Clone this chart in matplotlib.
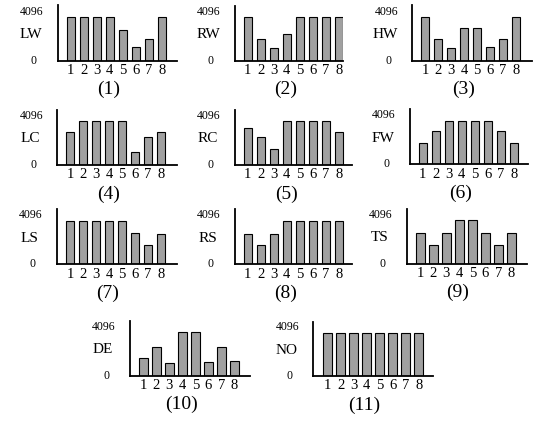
import matplotlib.pyplot as plt
import numpy as np

# Bar heights for every pattern, bars 1..8 (full bar = 4096)
LW = [4096, 4096, 4096, 4096, 2900, 1270, 2090, 4096]
RW = [4096, 2050, 1230, 2500, 4096, 4096, 4096, 4096]
HW = [4096, 2050, 1230, 3070, 3070, 1310, 2050, 4096]
LC = [3070, 4096, 4096, 4096, 4096, 1230, 2660, 3070]
RC = [3480, 2660, 1470, 4096, 4096, 4096, 4096, 3070]
FW = [2050, 3150, 4096, 4096, 4096, 4096, 3110, 2050]
LS = [4096, 4096, 4096, 4096, 4096, 2910, 1800, 2870]
RS = [2870, 1840, 2870, 4096, 4096, 4096, 4096, 4096]
TS = [2870, 1800, 2870, 4096, 4096, 2870, 1800, 2870]
DE = [1640, 2660, 1230, 4096, 4096, 1310, 2660, 1430]
NO = [4096, 4096, 4096, 4096, 4096, 4096, 4096, 4096]

names = ['LW', 'RW', 'HW', 'LC', 'RC', 'FW', 'LS', 'RS', 'TS', 'DE', 'NO']
series = [LW, RW, HW, LC, RC, FW, LS, RS, TS, DE, NO]
bar_pos = [1, 2, 3, 4, 5, 6, 7, 8]
top_label = '4096'

# Panel placement in pixels: y-axis x, first bar centre, right end, axis top, baseline
layout = [
    (58.0, 70.8, 177.0, 5.0, 60.7),
    (235.0, 247.8, 343.3, 6.0, 60.7),
    (412.3, 425.0, 531.7, 5.0, 60.7),
    (57.3, 70.0, 176.7, 110.0, 165.0),
    (235.0, 247.8, 351.7, 110.0, 165.0),
    (410.0, 422.8, 528.3, 109.0, 164.3),
    (56.7, 70.0, 176.7, 209.0, 264.3),
    (235.0, 247.8, 351.7, 209.0, 264.3),
    (406.7, 420.3, 526.7, 209.0, 263.7),
    (130.0, 143.3, 250.0, 321.0, 375.7),
    (313.3, 327.7, 433.3, 321.7, 376.0),
]

W, H = 536, 426
STEP = 13.0      # pixels between bar centres
FULL_PX = 43.5   # pixel height of a 4096 bar

plt.rcParams['font.family'] = ['Liberation Serif', 'DejaVu Serif']

fig = plt.figure(figsize=(W / 100, H / 100), dpi=100)
fig.set_facecolor('white')

for i, (name, vals) in enumerate(zip(names, series)):
    x0, c1, right, top, base = layout[i]
    ax = fig.add_axes([x0 / W, 1 - base / H, (right - x0) / W, (base - top) / H])
    ax.bar(bar_pos, vals, width=0.65, color='#a0a0a0', edgecolor='black',
           linewidth=0.8)
    ax.set_xlim(1 - (c1 - x0) / STEP, 1 + (right - c1) / STEP)
    ax.set_ylim(0, 4096 * (base - top) / FULL_PX)

    for s in ['top', 'right']:
        ax.spines[s].set_visible(False)
    for s in ['left', 'bottom']:
        ax.spines[s].set_linewidth(1.3)
    ax.set_yticks([])
    ax.set_xticks(bar_pos)
    ax.set_xticklabels([str(p) for p in bar_pos], fontsize=10.5)
    ax.tick_params(axis='x', length=0, pad=2.5)

    # side labels placed relative to the axis corner
    ax.annotate(top_label, (0, 0), xycoords='axes fraction', xytext=(-26, 49),
                textcoords='offset pixels', ha='center', va='center', fontsize=8.5)
    ax.annotate(name, (0, 0), xycoords='axes fraction', xytext=(-27, 26),
                textcoords='offset pixels', ha='center', va='center', fontsize=11)
    ax.annotate('0', (0, 0), xycoords='axes fraction', xytext=(-24, 0),
                textcoords='offset pixels', ha='center', va='center', fontsize=8.5)
    ax.annotate('(%d)' % (i + 1), (0, 0), xycoords='axes fraction', xytext=(51, -29),
                textcoords='offset pixels', ha='center', va='center', fontsize=14)

fig.savefig('out.png', dpi=100)
